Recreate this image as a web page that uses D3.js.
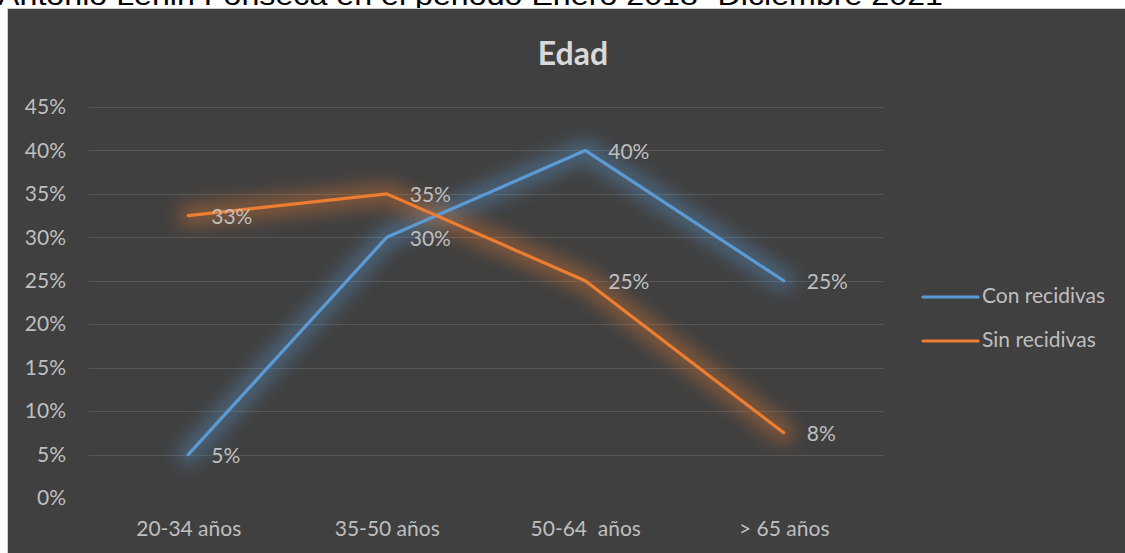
<!DOCTYPE html>
<html>
<head>
<meta charset="utf-8">
<script src="https://cdn.jsdelivr.net/npm/d3@7"></script>
<style>
  body { margin: 0; background: #fff; }
  svg { display: block; }
</style>
</head>
<body>
<div id="chart"></div>
<script>
var w = 1125;
var h = 553;

// data
var categories = ["20-34 años", "35-50 años", "50-64  años", "> 65 años"];
var conRecidivas = [0.05, 0.30, 0.40, 0.25];
var sinRecidivas = [0.325, 0.35, 0.25, 0.075];
var seriesNames = ["Con recidivas", "Sin recidivas"];
var colors = ["#5b9bd5", "#ed7d31"];
var yTicks = [0, 0.05, 0.10, 0.15, 0.20, 0.25, 0.30, 0.35, 0.40, 0.45];
var heading = "Antonio Lenin Fonseca en el periodo Enero 2018- Diciembre 2021";

var font = "Lato, 'Open Sans', sans-serif";

var xScale = d3.scalePoint()
               .domain(categories)
               .range([89, 883])
               .padding(0.5);
var yScale = d3.scaleLinear()
               .domain([0, 0.45])
               .range([498, 107]);

var svg = d3.select("#chart")
            .append("svg")
            .attr("width", w)
            .attr("height", h);

// glow filter
var defs = svg.append("defs");
var f = defs.append("filter")
            .attr("id", "glow")
            .attr("filterUnits", "userSpaceOnUse")
            .attr("x", 0).attr("y", 0)
            .attr("width", w).attr("height", h);
f.append("feGaussianBlur").attr("stdDeviation", 9);

// heading above the chart (cut by the page top, as in the source)
svg.append("text")
   .attr("x", -2)
   .attr("y", 5)
   .attr("font-family", "'Liberation Sans', Arial, sans-serif")
   .attr("font-size", "28px")
   .attr("fill", "#000")
   .attr("textLength", 945)
   .attr("lengthAdjust", "spacingAndGlyphs")
   .text(heading);

// panel
svg.append("rect")
   .attr("x", 7.5)
   .attr("y", 8.5)
   .attr("width", w - 7)
   .attr("height", h - 8)
   .attr("fill", "#404040")
   .attr("stroke", "#d0d0d0")
   .attr("stroke-width", 1);

// title
svg.append("text")
   .attr("x", 573)
   .attr("y", 65)
   .attr("text-anchor", "middle")
   .attr("font-family", font)
   .attr("font-weight", "bold")
   .attr("font-size", "32px")
   .attr("fill", "#d9d9d9")
   .text("Edad");

// gridlines
svg.append("g")
   .selectAll("line")
   .data(yTicks.slice(1))
   .enter()
   .append("line")
   .attr("x1", 89)
   .attr("x2", 883)
   .attr("y1", function(d) { return Math.round(yScale(d)) + 0.5; })
   .attr("y2", function(d) { return Math.round(yScale(d)) + 0.5; })
   .attr("stroke", "#575757")
   .attr("stroke-width", 1.2);

// y axis
var yAxis = d3.axisLeft(yScale)
              .tickValues(yTicks)
              .tickFormat(d3.format(".0%"))
              .tickSize(0)
              .tickPadding(0);
var gy = svg.append("g")
            .attr("transform", "translate(66,0)")
            .call(yAxis);
gy.select(".domain").remove();
gy.selectAll("text")
  .attr("font-family", font)
  .attr("font-size", "21px")
  .attr("fill", "#bfbfbf");

// x axis
var xAxis = d3.axisBottom(xScale).tickSize(0).tickPadding(0);
var gx = svg.append("g")
            .attr("transform", "translate(0,521)")
            .call(xAxis);
gx.select(".domain").remove();
gx.selectAll("text")
  .attr("font-family", font)
  .attr("font-size", "21px")
  .attr("fill", "#bfbfbf")
  .style("white-space", "pre");

var allSeries = [conRecidivas, sinRecidivas];
var line = d3.line()
             .x(function(d, i) { return xScale(categories[i]); })
             .y(function(d) { return yScale(d); });

// glows first
allSeries.forEach(function(s, k) {
    svg.append("path")
       .datum(s)
       .attr("d", line)
       .attr("fill", "none")
       .attr("stroke", colors[k])
       .attr("stroke-width", 22)
       .attr("stroke-linecap", "round")
       .attr("stroke-linejoin", "round")
       .attr("opacity", 0.38)
       .attr("filter", "url(#glow)");
});

// lines
allSeries.forEach(function(s, k) {
    svg.append("path")
       .datum(s)
       .attr("d", line)
       .attr("fill", "none")
       .attr("stroke", colors[k])
       .attr("stroke-width", 3.2)
       .attr("stroke-linecap", "round")
       .attr("stroke-linejoin", "round");
});

// value labels
allSeries.forEach(function(s, k) {
    svg.append("g")
       .selectAll("text")
       .data(s)
       .enter()
       .append("text")
       .attr("x", function(d, i) { return xScale(categories[i]) + 23; })
       .attr("y", function(d) { return yScale(d) + 3; })
       .attr("dominant-baseline", "middle")
       .attr("font-family", font)
       .attr("font-size", "21px")
       .attr("fill", "#bfbfbf")
       .text(function(d) { return Math.round(d * 100) + "%"; });
});

// legend
var legend = svg.append("g")
                .selectAll("g")
                .data(seriesNames)
                .enter()
                .append("g")
                .attr("transform", function(d, i) {
                    return "translate(923," + (297 + i * 44) + ")";
                });
legend.append("line")
      .attr("x1", 0)
      .attr("x2", 55)
      .attr("stroke", function(d, i) { return colors[i]; })
      .attr("stroke-width", 3.2)
      .attr("stroke-linecap", "round");
legend.append("text")
      .attr("x", 59)
      .attr("y", 1)
      .attr("dominant-baseline", "middle")
      .attr("font-family", font)
      .attr("font-size", "21px")
      .attr("fill", "#bfbfbf")
      .text(function(d) { return d; });
</script>
</body>
</html>
